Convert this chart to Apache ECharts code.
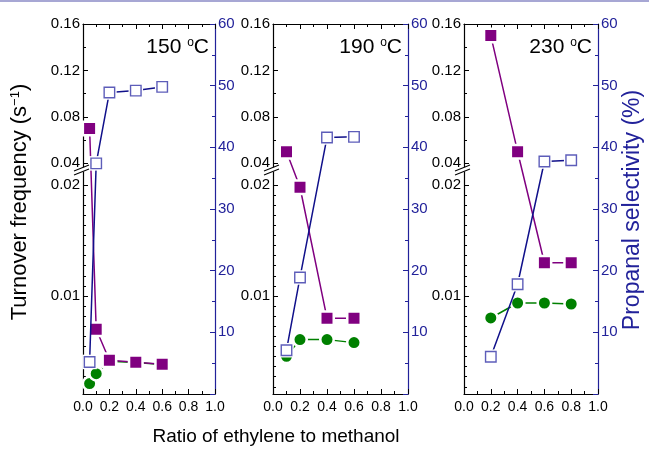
<!DOCTYPE html>
<html><head><meta charset="utf-8">
<script src="https://cdn.jsdelivr.net/npm/echarts@6/dist/echarts.min.js"></script>
<style>
html,body{margin:0;padding:0;background:#fff}
#wrap{position:relative;width:649px;height:451px}
#c,#o{position:absolute;left:0;top:0;width:649px;height:451px}
#o{pointer-events:none}
</style>
</head><body><div id="wrap"><div id="c"></div><div id="o"></div></div><script>
// ---------------- data ----------------
const panelTitles = ['150', '190', '230'];
const ratio150 = [0.05, 0.1, 0.2, 0.4, 0.6];
const tofSquare150 = [0.070, 0.0070, 0.00421, 0.00403, 0.00385];
const tofCircle150 = [0.00211, 0.0030, 0.00412, 0.00400, 0.00382];
const select150 = [5.2, 37.4, 48.9, 49.2, 49.8];
const ratio190 = [0.1, 0.2, 0.4, 0.6];
const tofSquare190 = [0.050, 0.0198, 0.0080, 0.0080];
const tofCircle190 = [0.00457, 0.00607, 0.00607, 0.0058];
const select190 = [7.1, 18.9, 41.6, 41.7];
const ratio230 = [0.2, 0.4, 0.6, 0.8];
const tofSquare230 = [0.150, 0.050, 0.0130, 0.0130];
const tofCircle230 = [0.00802, 0.00937, 0.00937, 0.00928];
const select230 = [6.05, 17.8, 37.7, 37.9];
const tofMajorTicks = [0.01, 0.02, 0.04, 0.08, 0.12, 0.16];
const tofMinorUpper = [0.06, 0.10, 0.14];
const xTickLabels = ['0.0', '0.2', '0.4', '0.6', '0.8', '1.0'];

// ---------------- broken TOF scale (two linear segments) ----------------
const LOW_BASE = 0.001171, LOW_SCALE = 11100;   // lower segment
const UP_BASE_U = 230.7, UP_SCALE = 1161;       // upper segment (from 0.04)
function brk(v) {
  if (v <= 0.02) return (v - LOW_BASE) * LOW_SCALE;
  if (v >= 0.04) return UP_BASE_U + (v - 0.04) * UP_SCALE;
  const a = (0.02 - LOW_BASE) * LOW_SCALE;
  return a + (v - 0.02) / 0.02 * (UP_BASE_U - a);
}
const U_MAX = brk(0.16);
const lowerMinor = [];
for (let k = -9; k <= 10; k++) if (k !== 0) lowerMinor.push(0.01 + k * 0.01 / 11);
const majorU = tofMajorTicks.map(brk);
const minorU = lowerMinor.concat(tofMinorUpper).map(brk);

const panels = [
  {left: 83, width: 132, x: ratio150, sq: tofSquare150, ci: tofCircle150, sel: select150},
  {left: 273, width: 135, x: ratio190, sq: tofSquare190, ci: tofCircle190, sel: select190},
  {left: 464, width: 134, x: ratio230, sq: tofSquare230, ci: tofCircle230, sel: select230}
];
const TOP = 24, H = 370;
const FONT = 'Liberation Sans, Arial, sans-serif';
const PURPLE = '#800080', GREEN = '#008000', NAVY = '#10108a', BLUE_MK = '#3434a8', AXBLUE = '#22229a';

const grids = [], xAxes = [], yAxes = [], series = [];
panels.forEach((p, i) => {
  grids.push({left: p.left, top: TOP, width: p.width, height: H, containLabel: false, outerBoundsMode: 'none'});
  const mkX = (pos, lab) => ({
    gridIndex: i, type: 'value', min: 0, max: 1, interval: 0.2, position: pos,
    axisLine: {show: true, onZero: false, lineStyle: {color: '#000', width: 1.2}},
    axisTick: {show: true, length: -5, lineStyle: {color: '#000', width: 1}},
    minorTick: {show: true, splitNumber: 2, length: -3, lineStyle: {color: '#000', width: 1}},
    splitLine: {show: false}, minorSplitLine: {show: false},
    axisLabel: lab ? {show: true, fontSize: 14, fontFamily: FONT, color: '#000', margin: 6,
      formatter: v => xTickLabels[Math.round(v / 0.2)]} : {show: false}
  });
  xAxes.push(mkX('bottom', true));
  xAxes.push(mkX('top', false));
  yAxes.push({
    gridIndex: i, type: 'value', min: 0, max: U_MAX, position: 'left',
    axisLine: {show: true, onZero: false, lineStyle: {color: '#000', width: 1.2}},
    axisTick: {show: true, length: -5, customValues: majorU, lineStyle: {color: '#000'}},
    axisLabel: {show: true, customValues: majorU, fontSize: 15, fontFamily: FONT, color: '#000', margin: 3,
      formatter: u => {
        let best = 0;
        majorU.forEach((m, j) => { if (Math.abs(m - u) < Math.abs(majorU[best] - u)) best = j; });
        return tofMajorTicks[best].toFixed(2);
      }},
    splitLine: {show: false}
  });
  yAxes.push({
    gridIndex: i, type: 'value', min: 0, max: U_MAX, position: 'left',
    axisLine: {show: false, onZero: false}, axisLabel: {show: false},
    axisTick: {show: true, length: -3, customValues: minorU, lineStyle: {color: '#000'}},
    splitLine: {show: false}
  });
  yAxes.push({
    gridIndex: i, type: 'value', min: 0, max: 60, interval: 10, position: 'right',
    axisLine: {show: true, onZero: false, lineStyle: {color: AXBLUE, width: 1.2}},
    axisTick: {show: true, length: -5, lineStyle: {color: AXBLUE}},
    minorTick: {show: true, splitNumber: 2, length: -3, lineStyle: {color: AXBLUE}},
    axisLabel: {show: true, fontSize: 15, fontFamily: FONT, color: AXBLUE, margin: 3, showMinLabel: false},
    splitLine: {show: false}, minorSplitLine: {show: false}
  });
  const xi = 2 * i, yl = 3 * i, yr = 3 * i + 2;
  // empty helper series so the top axis and the minor-tick axis are attached
  series.push({type: 'line', xAxisIndex: 2 * i + 1, yAxisIndex: 3 * i + 1, data: [], silent: true});
  series.push({
    type: 'line', xAxisIndex: xi, yAxisIndex: yl, data: p.x.map((x, j) => [x, brk(p.ci[j])]),
    symbol: 'circle', symbolSize: 13.5, lineStyle: {color: GREEN, width: 1.5},
    itemStyle: {color: GREEN, borderColor: '#fff', borderWidth: 2.5}, z: 3
  });
  series.push({
    type: 'line', xAxisIndex: xi, yAxisIndex: yl, data: p.x.map((x, j) => [x, brk(p.sq[j])]),
    symbol: 'rect', symbolSize: 13.5, lineStyle: {color: PURPLE, width: 1.5},
    itemStyle: {color: PURPLE, borderColor: '#fff', borderWidth: 2.5}, z: 4
  });
  series.push({
    type: 'line', xAxisIndex: xi, yAxisIndex: yr, data: p.x.map((x, j) => [x, p.sel[j]]),
    symbol: 'rect', symbolSize: 14.5, lineStyle: {color: NAVY, width: 1.5},
    itemStyle: {color: '#fff', borderWidth: 0}, z: 5
  });
  series.push({
    type: 'scatter', xAxisIndex: xi, yAxisIndex: yr, data: p.x.map((x, j) => [x, p.sel[j]]),
    symbol: 'rect', symbolSize: 10.5,
    itemStyle: {color: '#fff', borderColor: BLUE_MK, borderWidth: 1.4}, z: 6
  });
});

const chart = echarts.init(document.getElementById('c'), null, {renderer: 'canvas'});
chart.setOption({
  animation: false, backgroundColor: '#fff',
  grid: grids, xAxis: xAxes, yAxis: yAxes, series: series
});

// ---------------- overlay: titles, temperature labels, axis-break marks ----------------
const gfx = [
  {type: 'line', shape: {x1: 0, y1: 1, x2: 649, y2: 1}, style: {stroke: '#8a8ac6', lineWidth: 1.5}, z: 100},
  {type: 'text', x: 276, y: 437, z: 100,
    style: {text: 'Ratio of ethylene to methanol', fontSize: 19, fontFamily: FONT, fill: '#000', align: 'center', verticalAlign: 'middle'}},
  {type: 'text', x: 20, y: 202, rotation: Math.PI / 2, z: 100,
    style: {text: 'Turnover frequency (s{s|−1})', fontSize: 22, fontFamily: FONT, fill: '#000', align: 'center', verticalAlign: 'middle',
      rich: {s: {fontSize: 13, fontFamily: FONT, fill: '#000', verticalAlign: 'top'}}}},
  {type: 'text', x: 633, y: 210, rotation: Math.PI / 2, z: 100,
    style: {text: 'Propanal selectivity (%)', fontSize: 23, fontFamily: FONT, fill: AXBLUE, align: 'center', verticalAlign: 'middle'}}
];
panels.forEach((p, i) => {
  gfx.push({type: 'text', x: p.left + p.width - 6, y: 47, z: 100,
    style: {text: panelTitles[i] + ' {s|o}C', fontSize: 21, fontFamily: FONT, fill: '#000', align: 'right', verticalAlign: 'middle',
      rich: {s: {fontSize: 12, fontFamily: FONT, fill: '#000', verticalAlign: 'top'}}}});
  const ax = p.left;
  let yc = chart.convertToPixel({yAxisIndex: 3 * i}, 224);
  if (typeof yc !== 'number' || isNaN(yc)) yc = TOP + H * (1 - 224 / U_MAX);
  gfx.push({type: 'rect', shape: {x: ax - 2, y: yc - 2.8, width: 4, height: 4.4}, style: {fill: '#fff'}, z: 101});
  gfx.push({type: 'line', shape: {x1: ax - 9, y1: yc + 1, x2: ax + 6, y2: yc - 5}, style: {stroke: '#000', lineWidth: 1.1}, z: 102});
  gfx.push({type: 'line', shape: {x1: ax - 9, y1: yc + 5, x2: ax + 6, y2: yc - 1}, style: {stroke: '#000', lineWidth: 1.1}, z: 102});
});
const overlay = echarts.init(document.getElementById('o'), null, {renderer: 'canvas'});
overlay.setOption({animation: false, backgroundColor: 'rgba(0,0,0,0)', graphic: gfx});
</script></body></html>
